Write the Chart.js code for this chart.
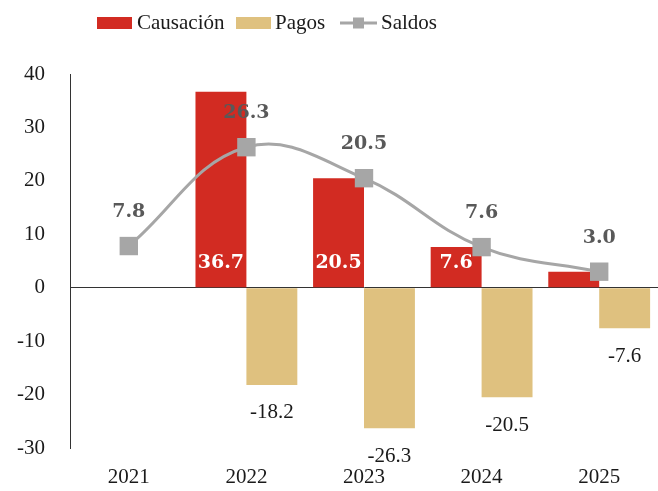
<!DOCTYPE html>
<html>
<head>
<meta charset="utf-8">
<script src="https://cdn.jsdelivr.net/npm/chart.js@4"></script>
<style>
  html, body { margin: 0; padding: 0; background: #fff; }
  #wrap { width: 658px; height: 491px; }
</style>
</head>
<body>
<div id="wrap"><canvas id="chart"></canvas></div>
<script>
const years = ['2021', '2022', '2023', '2024', '2025'];
const causacion = [null, 36.7, 20.5, 7.6, 3.0];
const pagos = [null, -18.2, -26.3, -20.5, -7.6];
const saldos = [7.8, 26.3, 20.5, 7.6, 3.0];
const yTicks = [40, 30, 20, 10, 0, -10, -20, -30];

const RED = '#d22b22';
const TAN = '#dfc17f';
const GREY = '#a6a6a6';
const SERIF = '"Liberation Serif", "Times New Roman", serif';
const BOLD_SERIF = '"DejaVu Serif", serif';

// labels on bars and points, drawn right after each dataset
const valueLabels = {
    id: 'valueLabels',
    afterDatasetDraw(chart, args) {
        const ctx = chart.ctx;
        const y0 = chart.scales.y.getPixelForValue(0);
        ctx.save();
        ctx.textAlign = 'center';
        ctx.textBaseline = 'middle';
        if (args.index === 0) {
            ctx.font = 'bold 19px ' + BOLD_SERIF;
            ctx.fillStyle = '#ffffff';
            args.meta.data.forEach((bar, i) => {
                if (causacion[i] == null) return;
                ctx.fillText(causacion[i].toFixed(1), bar.x, y0 - 25);
            });
        } else if (args.index === 1) {
            ctx.font = '21px ' + SERIF;
            ctx.fillStyle = '#1a1a1a';
            args.meta.data.forEach((bar, i) => {
                if (pagos[i] == null) return;
                ctx.fillText(pagos[i].toFixed(1), bar.x, bar.y + 28);
            });
        } else if (args.index === 2) {
            ctx.font = 'bold 19px ' + BOLD_SERIF;
            ctx.fillStyle = '#595959';
            args.meta.data.forEach((pt, i) => {
                ctx.fillText(saldos[i].toFixed(1), pt.x, pt.y - 34);
            });
        }
        ctx.restore();
    },
    afterDraw(chart) {
        // legend across the top
        const ctx = chart.ctx;
        ctx.save();
        ctx.font = '21px ' + SERIF;
        ctx.textBaseline = 'middle';
        const cy = 23;
        ctx.fillStyle = RED;
        ctx.fillRect(97, cy - 6, 35, 12);
        ctx.fillStyle = '#1a1a1a';
        ctx.fillText('Causación', 137, cy);
        ctx.fillStyle = TAN;
        ctx.fillRect(236, cy - 6, 35, 12);
        ctx.fillStyle = '#1a1a1a';
        ctx.fillText('Pagos', 275, cy);
        ctx.strokeStyle = GREY;
        ctx.lineWidth = 3;
        ctx.beginPath();
        ctx.moveTo(340, cy);
        ctx.lineTo(377, cy);
        ctx.stroke();
        ctx.fillStyle = GREY;
        ctx.fillRect(353, cy - 5.5, 11, 11);
        ctx.fillStyle = '#1a1a1a';
        ctx.fillText('Saldos', 381, cy);
        ctx.restore();
    }
};

const ctx = document.getElementById('chart').getContext('2d');
const chart = new Chart(ctx, {
    type: 'bar',
    data: {
        labels: years,
        datasets: [
            {
                label: 'Causación',
                data: causacion,
                backgroundColor: RED,
                order: 1
            },
            {
                label: 'Pagos',
                data: pagos,
                backgroundColor: TAN,
                order: 1
            },
            {
                type: 'line',
                label: 'Saldos',
                data: saldos,
                borderColor: GREY,
                borderWidth: 3,
                backgroundColor: GREY,
                pointStyle: 'rect',
                pointRadius: 13,
                pointBorderWidth: 0,
                tension: 0.4,
                order: 0
            }
        ]
    },
    options: {
        responsive: true,
        maintainAspectRatio: false,
        animation: false,
        layout: { autoPadding: false, padding: { top: 74, right: 0, left: 0, bottom: 0 } },
        datasets: {
            bar: { barPercentage: 1, categoryPercentage: 0.866, grouped: true }
        },
        plugins: {
            legend: { display: false },
            tooltip: { enabled: false }
        },
        scales: {
            x: {
                grid: { display: false, drawTicks: false },
                border: { display: false },
                ticks: {
                    color: '#1a1a1a',
                    font: { family: SERIF, size: 21 },
                    padding: 17
                },
                afterFit(scale) { scale.height = 43; }
            },
            y: {
                min: -30,
                max: 40,
                afterBuildTicks(scale) {
                    scale.ticks = yTicks.map(v => ({ value: v }));
                },
                grid: {
                    drawTicks: false,
                    color: c => (c.tick && c.tick.value === 0 ? '#333333' : 'rgba(0,0,0,0)'),
                    lineWidth: 1
                },
                border: { display: true, color: '#333333', width: 1 },
                ticks: {
                    color: '#1a1a1a',
                    font: { family: SERIF, size: 21 },
                    padding: 25
                },
                afterFit(scale) { scale.width = 70; }
            }
        }
    },
    plugins: [valueLabels]
});
</script>
</body>
</html>
